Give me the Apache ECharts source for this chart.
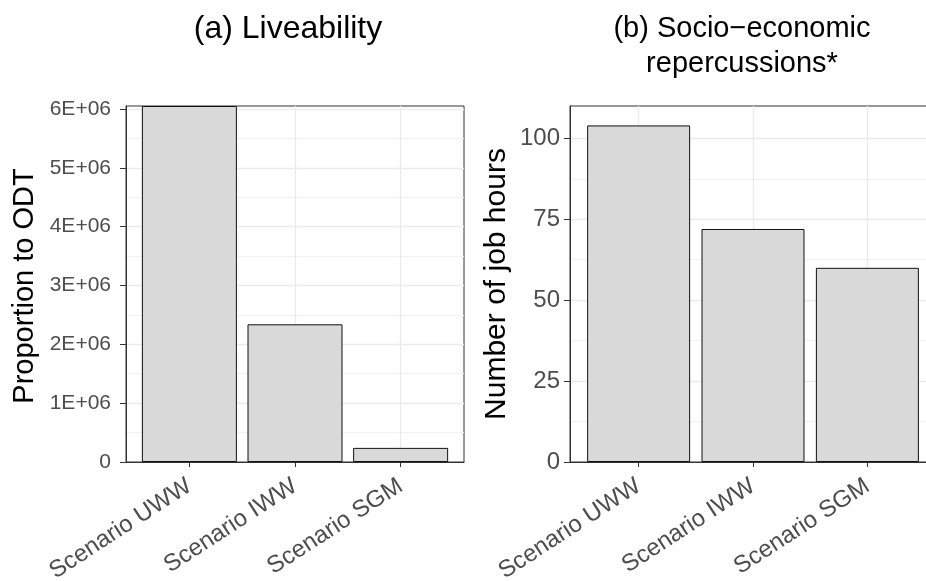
<!DOCTYPE html>
<html><head><meta charset="utf-8">
<script src="https://cdn.jsdelivr.net/npm/echarts@6/dist/echarts.min.js"></script>
<style>html,body{margin:0;padding:0;background:#fff}#c{width:926px;height:581px}</style>
</head><body><div id="c"></div>
<script>
const categories = ['Scenario UWW', 'Scenario IWW', 'Scenario SGM'];
const liveability = [6.05e6, 2.34e6, 0.24e6];
const jobHours = [104, 72, 60];
const liveTickLabels = ['0', '1E+06', '2E+06', '3E+06', '4E+06', '5E+06', '6E+06'];
const jobTickLabels = ['0', '25', '50', '75', '100'];
const titleA = '(a) Liveability';
const titleB = ['(b) Socio\u2212economic', 'repercussions*'];
const yNameA = 'Proportion to ODT';
const yNameB = 'Number of job hours';

const FONT = "'Liberation Sans', Arial, sans-serif";
const positions = categories.map((c, i) => i + 1);

function xAxisCfg(gi) {
  return {
    type: 'value', gridIndex: gi, min: 0.4, max: 3.6,
    axisLine: { show: true, lineStyle: { color: '#333', width: 1 } },
    axisTick: { show: true, customValues: positions, length: 5, lineStyle: { color: '#333', width: 1 } },
    axisLabel: {
      customValues: positions, rotate: 33, margin: 22,
      formatter: v => categories[Math.round(v) - 1] || '',
      color: '#4d4d4d', fontSize: 24, fontFamily: FONT
    },
    splitLine: { show: true, lineStyle: { color: '#ebebeb', width: 1.3 } },
    minorSplitLine: { show: false }
  };
}
function yAxisCfg(gi, max, interval, labels, fontSize, margin) {
  return {
    type: 'value', gridIndex: gi, min: 0, max: max, interval: interval,
    axisLine: { show: true, lineStyle: { color: '#333', width: 1 } },
    axisTick: { show: true, length: 6, lineStyle: { color: '#333', width: 1 } },
    axisLabel: {
      showMaxLabel: false, margin: margin,
      formatter: v => { const k = Math.round(v / interval); return Math.abs(v - k * interval) < 1e-9 * interval ? (labels[k] || '') : ''; },
      color: '#4d4d4d', fontSize: fontSize, fontFamily: FONT
    },
    splitLine: { show: true, showMinLine: false, showMaxLine: false, lineStyle: { color: '#ebebeb', width: 1.3 } },
    minorTick: { show: false, splitNumber: 2 },
    minorSplitLine: { show: true, lineStyle: { color: '#f2f2f2', width: 1 } }
  };
}

const chart = echarts.init(document.getElementById('c'), null, { renderer: 'canvas' });
chart.setOption({
  animation: false,
  backgroundColor: '#fff',
  grid: [
    { left: 126, top: 106, width: 338, height: 356, containLabel: false, outerBoundsMode: 'none', show: true, borderColor: '#333', borderWidth: 1, backgroundColor: 'transparent' },
    { left: 570, top: 106, width: 366, height: 356, containLabel: false, outerBoundsMode: 'none', show: true, borderColor: '#333', borderWidth: 1, backgroundColor: 'transparent' }
  ],
  xAxis: [xAxisCfg(0), xAxisCfg(1)],
  yAxis: [
    yAxisCfg(0, 6.05e6, 1e6, liveTickLabels, 21, 15),
    yAxisCfg(1, 110, 25, jobTickLabels, 24, 10)
  ],
  series: [
    {
      type: 'bar', xAxisIndex: 0, yAxisIndex: 0, barWidth: 95,
      data: liveability.map((v, i) => [positions[i], v]),
      itemStyle: { color: '#d9d9d9', borderColor: '#111', borderWidth: 1 }
    },
    {
      type: 'bar', xAxisIndex: 1, yAxisIndex: 1, barWidth: 103,
      data: jobHours.map((v, i) => [positions[i], v]),
      itemStyle: { color: '#d9d9d9', borderColor: '#111', borderWidth: 1 }
    }
  ],
  graphic: [
    { type: 'text', x: 288, y: 29, style: { text: titleA, font: '32px ' + FONT, fill: '#000', align: 'center', verticalAlign: 'middle' } },
    { type: 'text', x: 742, y: 29, style: { text: titleB[0], font: '29px ' + FONT, fill: '#000', align: 'center', verticalAlign: 'middle' } },
    { type: 'text', x: 742, y: 64, style: { text: titleB[1], font: '29px ' + FONT, fill: '#000', align: 'center', verticalAlign: 'middle' } },
    { type: 'text', x: 25, y: 286, rotation: Math.PI / 2, style: { text: yNameA, font: '29px ' + FONT, fill: '#000', align: 'center', verticalAlign: 'middle' } },
    { type: 'text', x: 497, y: 284, rotation: Math.PI / 2, style: { text: yNameB, font: '30px ' + FONT, fill: '#000', align: 'center', verticalAlign: 'middle' } }
  ]
});
</script></body></html>
